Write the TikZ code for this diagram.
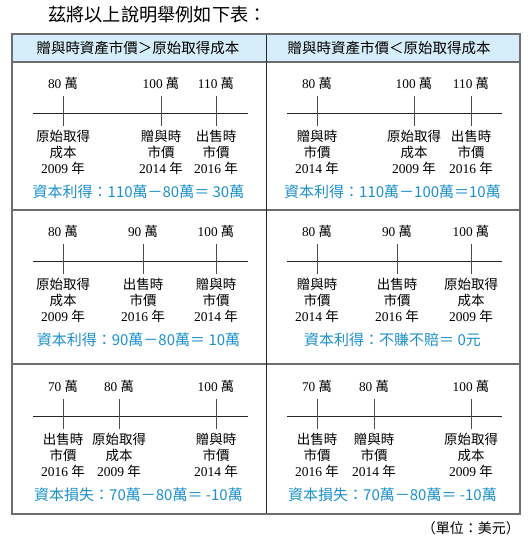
\documentclass[tikz,border=0pt]{standalone}
\usepackage{fontspec}
\setmainfont{Liberation Serif}
\newfontfamily\cjk{Noto Sans CJK TC}
\newcommand\Cj[1]{{\cjk #1}}
\definecolor{resblue}{RGB}{28,144,204}
\definecolor{headfill}{RGB}{214,238,250}
\definecolor{frame}{RGB}{110,110,110}
\newcommand\YQ{原始取得\\成本\\{\rmfamily 2009 }年}
\newcommand\ZY{贈與時\\市價\\{\rmfamily 2014 }年}
\newcommand\CS{出售時\\市價\\{\rmfamily 2016 }年}
\newcommand\W[1]{#1 \Cj{萬}}
\newcommand\tk[5]{%
  \coordinate (#1a) at (#2,#3-17);
  \coordinate (#1b) at (#2,#3+13);
  \draw[tickl] (#1a) -- (#1b);
  \node[toplab] (#1t) at (#2,#3-30) {#4};
  \node[botlab] (#1l) at (#2,#3+17) {#5};}
\newcommand\panel[3]{%
  \coordinate (#1L) at (33,#2);
  \coordinate (#1R) at (248,#2);
  \draw[axis] (#1L) -- (#1R);
  \node[res] (#1res) at (138.5,#2+79) {#3};}
\begin{document}
\begin{tikzpicture}[x=1pt,y=-1pt,
  toplab/.style={font=\fontsize{13.3}{15}\selectfont, inner sep=0, anchor=center},
  botlab/.style={font=\fontsize{13.5}{16}\selectfont\cjk, align=center, inner sep=0, anchor=north},
  res/.style={font=\fontsize{15}{17}\selectfont\cjk, text=resblue, inner sep=0},
  axis/.style={line width=1pt, draw=black!85},
  tickl/.style={line width=1pt, draw=black!70},
  frameline/.style={line width=1.3pt, draw=frame},
  headtxt/.style={font=\fontsize{14.5}{16}\selectfont\cjk, inner sep=0}]
\useasboundingbox (0,0) rectangle (532,544);
\fill[white] (0,0) rectangle (532,544);
% title
\node[font=\fontsize{18.2}{20}\selectfont\cjk, anchor=west, inner sep=0] (title) at (48,15) {茲將以上說明舉例如下表：};
% table
\fill[headfill] (12,34) rectangle (520,62);
\coordinate (tl) at (12,34);
\coordinate (br) at (520,514);
\draw[frameline] (12,62) -- (520,62);
\draw[frameline] (12,210) -- (520,210);
\draw[frameline] (12,364) -- (520,364);
\draw[line width=1pt, draw=black!85] (266,34) -- (266,514);
\draw[frameline] (tl) rectangle (br);
\node[headtxt] (h1) at (138,48) {贈與時資產市價＞原始取得成本};
\node[headtxt] (h2) at (389,48) {贈與時資產市價＜原始取得成本};
% row 1 left
\panel{aL}{113}{資本利得：110萬－80萬＝ 30萬}
\tk{a1}{63}{113}{\W{80}}{\YQ}
\tk{a2}{161}{113}{\W{100}}{\ZY}
\tk{a3}{216}{113}{\W{110}}{\CS}
% row 2 left
\panel{bL}{261}{資本利得：90萬－80萬＝ 10萬}
\tk{b1}{63}{261}{\W{80}}{\YQ}
\tk{b2}{143}{261}{\W{90}}{\CS}
\tk{b3}{216}{261}{\W{100}}{\ZY}
% row 3 left
\panel{cL}{416}{資本損失：70萬－80萬＝ -10萬}
\tk{c1}{63}{416}{\W{70}}{\CS}
\tk{c2}{119}{416}{\W{80}}{\YQ}
\tk{c3}{216}{416}{\W{100}}{\ZY}
\begin{scope}[shift={(254,0)}]
% row 1 right
\panel{aR}{113}{資本利得：110萬－100萬＝10萬}
\tk{d1}{63}{113}{\W{80}}{\ZY}
\tk{d2}{160}{113}{\W{100}}{\YQ}
\tk{d3}{217}{113}{\W{110}}{\CS}
% row 2 right
\panel{bR}{261}{資本利得：不賺不賠＝ 0元}
\tk{e1}{63}{261}{\W{80}}{\ZY}
\tk{e2}{143}{261}{\W{90}}{\CS}
\tk{e3}{217}{261}{\W{100}}{\YQ}
% row 3 right
\panel{cR}{416}{資本損失：70萬－80萬＝ -10萬}
\tk{f1}{63}{416}{\W{70}}{\CS}
\tk{f2}{120}{416}{\W{80}}{\ZY}
\tk{f3}{217}{416}{\W{100}}{\YQ}
\end{scope}
\node[font=\fontsize{14}{16}\selectfont\cjk, anchor=east, inner sep=0] (unit) at (520,528) {（單位：美元）};
\end{tikzpicture}
\end{document}
